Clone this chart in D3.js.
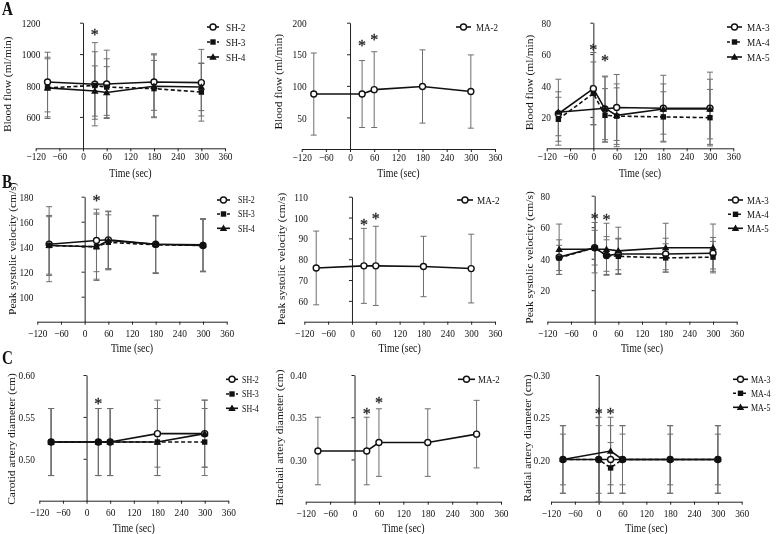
<!DOCTYPE html>
<html><head><meta charset="utf-8">
<script src="https://cdn.jsdelivr.net/npm/d3@7"></script>
<style>
body{margin:0;background:#fff;}
svg{display:block;will-change:transform;}
svg text{font-family:"Liberation Serif","Times New Roman",serif;}
</style>
</head><body>
<svg id="chart" width="778" height="534"></svg>
<script>
// ---------- DATA ----------
const timesSH = [-90, 30, 60, 180, 300];
const timesMA = [-90, 0, 30, 60, 180, 300];
const xTicks = [-120, -60, 0, 60, 120, 180, 240, 300, 360];

// A: blood flow (ml/min)
const sh2Flow = [822, 808, 810, 822, 818];   const sh2FlowSD = [190, 265, 215, 180, 212];
const sh3Flow = [785, 800, 790, 780, 758];   const sh3FlowSD = [195, 215, 180, 180, 185];
const sh4Flow = [785, 765, 755, 795, 790];   const sh4FlowSD = [185, 160, 165, 200, 150];
const ma2Flow = [87, 87, 94, 99, 91];        const ma2FlowSD = [65, 53, 60, 58, 58];
const ma3Flow = [22, 38, 25, 26, 25.5, 25.5]; const ma3FlowSD = [14, 23, 21, 21, 21, 23];
const ma4Flow = [18.5, 35, 21, 20.5, 20, 19.5]; const ma4FlowSD = [14, 20, 17, 18, 16, 18];
const ma5Flow = [23, null, 25.5, 21, 25, 25]; const ma5FlowSD = [21, null, 20, 20, 16, 19];

// B: peak systolic velocity (cm/s)
const sh2Psv = [142, 145, 145.5, 142, 141];   const sh2PsvSD = [30, 25, 23, 23, 21];
const sh3Psv = [141, 140, 143.5, 141.5, 141]; const sh3PsvSD = [24, 26, 22, 23, 21];
const sh4Psv = [141, 140, 145, 142, 141.5];   const sh4PsvSD = [23, 27, 23, 23, 21];
const ma2Psv = [75.8, 76.8, 76.8, 76.5, 75.5]; const ma2PsvSD = [17.7, 18, 19, 14.5, 16.5];
const ma3Psv = [41, 47, 42, 43, 43, 43.5];    const ma3PsvSD = [11, 16, 10, 10, 10, 10];
const ma4Psv = [40.5, 47, 42, 41.5, 40.5, 41]; const ma4PsvSD = [8, 11, 12, 11, 9, 10];
const ma5Psv = [46, null, 46, 45, 47, 47];    const ma5PsvSD = [16, null, 16.5, 15, 15.5, 15];

// C: artery diameter (cm)
const sh2Dia = [0.52, 0.52, 0.52, 0.53, 0.53]; const sh2DiaSD = [0.04, 0.04, 0.04, 0.04, 0.04];
const sh3Dia = [0.52, 0.52, 0.52, 0.52, 0.52]; const sh3DiaSD = [0.04, 0.04, 0.04, 0.04, 0.04];
const sh4Dia = [0.52, 0.52, 0.52, 0.52, 0.53]; const sh4DiaSD = [0.04, 0.04, 0.04, 0.04, 0.04];
const ma2Dia = [0.31, 0.31, 0.32, 0.32, 0.33]; const ma2DiaSD = [0.04, 0.04, 0.04, 0.04, 0.04];
const ma3Dia = [0.20, 0.20, 0.20, 0.20, 0.20, 0.20]; const ma3DiaSD = [0.04, 0.05, 0.04, 0.04, 0.04, 0.04];
const ma4Dia = [0.20, 0.20, 0.19, 0.20, 0.20, 0.20]; const ma4DiaSD = [0.03, 0.04, 0.03, 0.03, 0.03, 0.03];
const ma5Dia = [0.20, null, 0.21, 0.20, 0.20, 0.20]; const ma5DiaSD = [0.04, null, 0.04, 0.04, 0.04, 0.04];

// significance markers
const starsA1t = [30], starsA1v = [1135];
const starsA2t = [30, 60], starsA2v = [167, 177];
const starsA3t = [0, 30], starsA3v = [64, 57];
const starsB1t = [30], starsB1v = [178.5];
const starsB2t = [30, 60], starsB2v = [97.7, 100.4];
const starsB3t = [0, 30], starsB3v = [67, 66];
const starsC1t = [30], starsC1v = [0.568];
const starsC2t = [30, 60], starsC2v = [0.357, 0.37];
const starsC3t = [0, 30], starsC3v = [0.2565, 0.2565];

// ---------- LAYOUT ----------
const SX = 0.84;  // horizontal squeeze of the original figure's text
const FONT = "Liberation Serif, Times New Roman, serif";
const svg = d3.select("#chart");
const fmt0 = d3.format("d"), fmt2 = d3.format(".2f");

function S(name, times, values, sd, kind, dash) { return {name, times, values, sd, kind, dash}; }

const panels = [
  {x0:35.7, x1:225, yTop:22.7, yBot:148.3, dom:[400,1200], ticks:[600,800,1000,1200], fmt:fmt0, lr:40.5,
   ylab:"Blood flow (ml/min)", ylx:8, yly:84.2, xpad:1, xty:176.5,
   leg:{l0:207, l1:219, tx:226, fs:11, rows:[27,42,57]}, st:[starsA1t, starsA1v],
   series:[S("SH-2",timesSH,sh2Flow,sh2FlowSD,"circle",false),S("SH-3",timesSH,sh3Flow,sh3FlowSD,"square",true),S("SH-4",timesSH,sh4Flow,sh4FlowSD,"triangle",false)]},
  {x0:301.7, x1:495, yTop:22.7, yBot:149, dom:[0,200], ticks:[50,100,150,200], fmt:fmt0, lr:306.7,
   ylab:"Blood flow (ml/min)", ylx:278.3, yly:81.7, xpad:1, xty:176.5,
   leg:{l0:456, l1:471, tx:476, fs:10.7, rows:[27]}, st:[starsA2t, starsA2v],
   series:[S("MA-2",timesSH,ma2Flow,ma2FlowSD,"circle",false)]},
  {x0:546.7, x1:733.3, yTop:22.7, yBot:148.3, dom:[0,80], ticks:[20,40,60,80], fmt:fmt0, lr:551,
   ylab:"Blood flow (ml/min)", ylx:530, yly:82.5, xpad:1, xty:176.5,
   leg:{l0:727, l1:742, tx:747, fs:11, rows:[27,42,57]}, st:[starsA3t, starsA3v],
   series:[S("MA-3",timesMA,ma3Flow,ma3FlowSD,"circle",false),S("MA-4",timesMA,ma4Flow,ma4FlowSD,"square",true),S("MA-5",timesMA,ma5Flow,ma5FlowSD,"triangle",false)]},

  {x0:37.3, x1:226.7, yTop:196.7, yBot:321.7, dom:[80,180], ticks:[100,120,140,160,180], fmt:fmt0, lr:33.5,
   ylab:"Peak systolic velocity (cm/s)", ylx:12.7, yly:248.7, xpad:4.5, xty:352,
   leg:{l0:217, l1:230, tx:238, fs:9.5, rows:[200,214,228.3]}, st:[starsB1t, starsB1v],
   series:[S("SH-2",timesSH,sh2Psv,sh2PsvSD,"circle",false),S("SH-3",timesSH,sh3Psv,sh3PsvSD,"square",true),S("SH-4",timesSH,sh4Psv,sh4PsvSD,"triangle",false)]},
  {x0:304.3, x1:495, yTop:196.7, yBot:321.7, dom:[50,110], ticks:[60,70,80,90,100,110], fmt:fmt0, lr:308,
   ylab:"Peak systolic velocity (cm/s)", ylx:281.7, yly:259, xpad:4.5, xty:352,
   leg:{l0:457, l1:473, tx:477, fs:11, rows:[200]}, st:[starsB2t, starsB2v],
   series:[S("MA-2",timesSH,ma2Psv,ma2PsvSD,"circle",false)]},
  {x0:547.3, x1:736.7, yTop:195.7, yBot:321.7, dom:[0,80], ticks:[20,40,60,80], fmt:fmt0, lr:550,
   ylab:"Peak systolic velocity (cm/s)", ylx:530, yly:257.5, xpad:4.5, xty:352,
   leg:{l0:728, l1:743, tx:747, fs:10.6, rows:[200,214.3,228.3]}, st:[starsB3t, starsB3v],
   series:[S("MA-3",timesMA,ma3Psv,ma3PsvSD,"circle",false),S("MA-4",timesMA,ma4Psv,ma4PsvSD,"square",true),S("MA-5",timesMA,ma5Psv,ma5PsvSD,"triangle",false)]},

  {x0:39.3, x1:228.3, yTop:375, yBot:500.7, dom:[0.45,0.60], ticks:[0.50,0.55,0.60], fmt:fmt2, lr:35,
   ylab:"Carotid artery diameter (cm)", ylx:11.7, yly:439, xpad:4.5, xty:532,
   leg:{l0:226, l1:238, tx:242, fs:9.5, rows:[379.3,394,408.3]}, st:[starsC1t, starsC1v],
   series:[S("SH-2",timesSH,sh2Dia,sh2DiaSD,"circle",false),S("SH-3",timesSH,sh3Dia,sh3DiaSD,"square",true),S("SH-4",timesSH,sh4Dia,sh4DiaSD,"triangle",false)]},
  {x0:305.7, x1:501, yTop:375, yBot:501.7, dom:[0.25,0.40], ticks:[0.30,0.35,0.40], fmt:fmt2, lr:306.7,
   ylab:"Brachail artery diameter (cm)", ylx:280, yly:437.5, xpad:4.5, xty:532,
   leg:{l0:458, l1:475, tx:478, fs:10.6, rows:[379.3]}, st:[starsC2t, starsC2v],
   series:[S("MA-2",timesSH,ma2Dia,ma2DiaSD,"circle",false)]},
  {x0:551, x1:741.7, yTop:375, yBot:501.7, dom:[0.15,0.30], ticks:[0.20,0.25,0.30], fmt:fmt2, lr:550,
   ylab:"Radial artery diameter (cm)", ylx:527.7, yly:438, xpad:4.5, xty:532,
   leg:{l0:733, l1:748, tx:751, fs:9.5, rows:[379.3,393.3,407.3]}, st:[starsC3t, starsC3v],
   series:[S("MA-3",timesMA,ma3Dia,ma3DiaSD,"circle",false),S("MA-4",timesMA,ma4Dia,ma4DiaSD,"square",true),S("MA-5",timesMA,ma5Dia,ma5DiaSD,"triangle",false)]}
];

const panelLetters = ["A", "B", "C"];
const letterPos = [[2, 15], [2, 187.5], [2, 363.5]];

// ---------- HELPERS ----------
function addText(parent, x, y, str, o = {}) {
  const t = parent.append("text")
    .attr("transform", `translate(${x},${y})` + (o.noScale ? "" : ` scale(${SX},1)`) + (o.rotate ? " rotate(-90)" : ""))
    .attr("text-anchor", o.anchor || "start")
    .attr("font-family", FONT)
    .attr("font-size", o.size || 11)
    .attr("font-weight", o.weight || "normal")
    .attr("fill", o.fill || "#111")
    .text(str);
  if (o.dy) t.attr("dy", o.dy);
  return t;
}

function marker(g, kind, cx, cy) {
  if (kind === "circle") {
    g.append("circle").attr("cx", cx).attr("cy", cy).attr("r", 3)
      .attr("fill", "#fff").attr("stroke", "#111").attr("stroke-width", 1.4);
  } else if (kind === "square") {
    g.append("rect").attr("x", cx - 2.7).attr("y", cy - 2.7).attr("width", 5.4).attr("height", 5.4).attr("fill", "#111");
  } else {
    g.append("path").attr("transform", `translate(${cx},${cy + 0.5})`)
      .attr("d", d3.symbol(d3.symbolTriangle, 24)()).attr("fill", "#111");
  }
}

function styleAxis(a) {
  a.attr("font-family", FONT).attr("font-size", 11);
  a.select(".domain").attr("stroke", "#222").attr("stroke-width", 1);
  a.selectAll(".tick line").attr("stroke", "#222").attr("stroke-width", 1);
  a.selectAll(".tick text").attr("fill", "#111").attr("font-size", 11.2).attr("font-family", FONT);
}

// ---------- DRAW ----------
panels.forEach(p => {
  const g = svg.append("g");
  const x = d3.scaleLinear().domain([-120, 360]).range([p.x0, p.x1]);
  const y = d3.scaleLinear().domain(p.dom).range([p.yBot, p.yTop]);

  // x axis
  const xa = g.append("g").attr("transform", `translate(0,${p.yBot})`)
    .call(d3.axisBottom(x).tickValues(xTicks).tickSize(3).tickSizeOuter(0).tickPadding(p.xpad).tickFormat(fmt0));
  styleAxis(xa);
  xa.selectAll(".tick text").attr("transform", `scale(${SX},1)`);

  // y axis (line at x = 0 s)
  const ya = g.append("g").attr("transform", `translate(${x(0)},0)`)
    .call(d3.axisLeft(y).tickValues(p.ticks).tickSize(3).tickSizeOuter(0).tickFormat(p.fmt));
  styleAxis(ya);
  ya.selectAll(".tick text").attr("x", 0)
    .attr("transform", `translate(${p.lr - x(0)},0) scale(${SX},1)`);

  // titles
  addText(g, (p.x0 + p.x1) / 2, p.xty, "Time (sec)", {anchor: "middle", size: 11.8});
  addText(g, p.ylx, p.yly, p.ylab, {anchor: "middle", size: 11.5, rotate: true, dy: "0.35em"});

  // error bars
  const eg = g.append("g").attr("stroke", "#6e6e6e").attr("stroke-width", 1);
  p.series.forEach(s => {
    s.times.forEach((t, i) => {
      const v = s.values[i], e = s.sd[i];
      if (v == null) return;
      const cx = x(t), yh = y(v + e), yl = y(v - e);
      eg.append("line").attr("x1", cx).attr("x2", cx).attr("y1", yh).attr("y2", yl);
      eg.append("line").attr("x1", cx - 3).attr("x2", cx + 3).attr("y1", yh).attr("y2", yh);
      eg.append("line").attr("x1", cx - 3).attr("x2", cx + 3).attr("y1", yl).attr("y2", yl);
    });
  });

  // lines
  const line = d3.line().x(d => x(d[0])).y(d => y(d[1]));
  p.series.forEach(s => {
    const pts = s.times.map((t, i) => [t, s.values[i]]).filter(d => d[1] != null);
    g.append("path").datum(pts).attr("d", line).attr("fill", "none")
      .attr("stroke", "#111").attr("stroke-width", 1.6)
      .attr("stroke-dasharray", s.dash ? "4,2.5" : null);
  });
  // markers
  p.series.forEach(s => {
    s.times.forEach((t, i) => { if (s.values[i] != null) marker(g, s.kind, x(t), y(s.values[i])); });
  });

  // stars
  p.st[0].forEach((t, i) => {
    addText(g, x(t), y(p.st[1][i]) + 7.5, "*", {anchor: "middle", size: 16, noScale: true, fill: "#222"})
      .attr("stroke", "#222").attr("stroke-width", 0.3);
  });

  // legend
  p.series.forEach((s, i) => {
    const ry = p.leg.rows[i];
    g.append("line").attr("x1", p.leg.l0).attr("x2", p.leg.l1).attr("y1", ry).attr("y2", ry)
      .attr("stroke", "#111").attr("stroke-width", 1.6).attr("stroke-dasharray", s.dash ? "3,2" : null);
    marker(g, s.kind, (p.leg.l0 + p.leg.l1) / 2, ry);
    addText(g, p.leg.tx, ry, s.name, {size: p.leg.fs, dy: "0.35em"});
  });
});

panelLetters.forEach((L, i) => {
  addText(svg, letterPos[i][0], letterPos[i][1], L, {size: 18, weight: "bold"});
});
</script>
</body></html>
